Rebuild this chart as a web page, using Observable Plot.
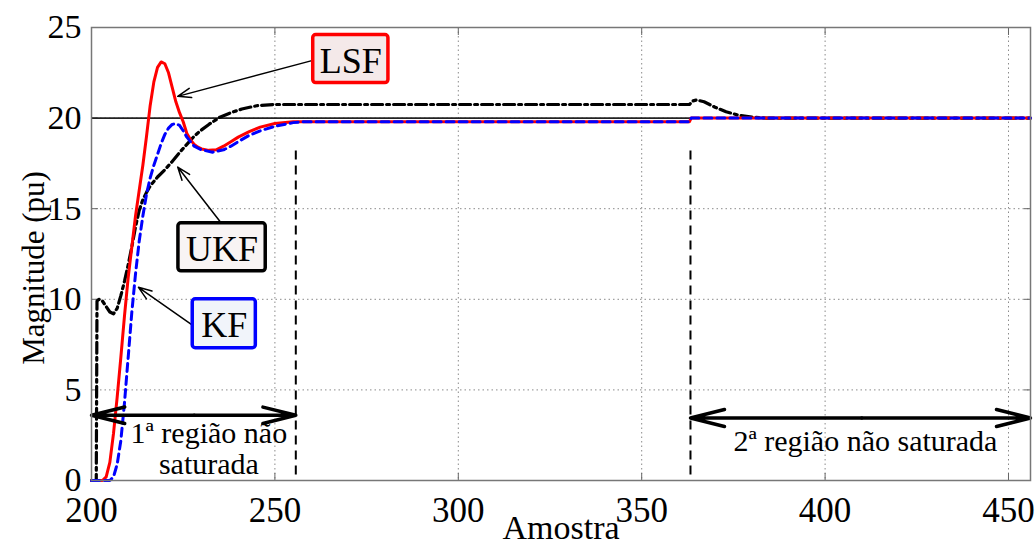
<!DOCTYPE html>
<html>
<head>
<meta charset="utf-8">
<script src="https://cdn.jsdelivr.net/npm/d3@7"></script>
<script src="https://cdn.jsdelivr.net/npm/@observablehq/plot@0.6"></script>
<style>
  body { margin: 0; background: white; }
</style>
</head>
<body>
<div id="chart"></div>
<script>
const xTicks = [200, 250, 300, 350, 400, 450];
const yTicks = [0, 5, 10, 15, 20, 25];

const lsfX = [200,203,204,205,206,207,208,209,210,211,212,213,214,215,216,217,218,219,220,221,222,223,224,225,226,227,228,229,230,232,234,236,238,240,243,246,250,255,363,363.5,456];
const lsfY = [0,0,0.2,1,2.6,4.6,6.8,9.1,11.2,12.9,14.6,16.0,17.4,19.0,20.7,22.0,22.8,23.1,23.0,22.5,21.7,20.9,20.3,19.8,19.15,18.8,18.55,18.4,18.3,18.22,18.25,18.45,18.7,18.95,19.25,19.5,19.7,19.8,19.8,20,20];

const kfX = [200,205,206,207,208,209,210,211,212,213,214,215,216,217,218,219,220,221,222,223,224,225,226,227,228,230,233,236,238,240,243,246,250,255,258,363,363.5,456];
const kfY = [0,0,0.2,0.9,2.2,4.3,6.8,9.3,11.4,13.2,14.6,15.8,16.7,17.4,18.0,18.6,19.1,19.45,19.65,19.7,19.6,19.3,18.95,18.7,18.45,18.25,18.12,18.25,18.45,18.7,19.05,19.3,19.55,19.75,19.8,19.8,20,20];

const ukfX = [200,201.3,201.5,202,203,204,205,206,207,208,209,210,211,212,213,214,215,216,218,220,222,224,226,228,230,232,235,238,241,245,250,363,364,365,367,370,373,376,380,384,456];
const ukfY = [0,0,9.9,10,9.9,9.6,9.3,9.2,9.5,10.2,11,11.9,12.9,14,14.9,15.5,15.9,16.25,16.75,17.15,17.6,18.1,18.55,19.0,19.35,19.65,20.05,20.3,20.5,20.68,20.75,20.75,20.95,21.0,20.9,20.6,20.35,20.18,20.05,20.0,20];

const referenceValue = [20];

// region boundaries (sample index) and annotations
const regionBounds = [255.7, 363.3];
const regionTop = 18.3;
const regionArrows = [
  {x1: 228, x2: 200, y: 3.6},
  {x1: 228, x2: 255.7, y: 3.6},
  {x1: 410, x2: 363.3, y: 3.45},
  {x1: 410, x2: 456, y: 3.45}
];
const regionTexts = [
  {x: 232, y: 2.6, t: "1ª região não"},
  {x: 232, y: 0.9, t: "saturada"},
  {x: 411, y: 2.15, t: "2ª região não saturada"}
];

const seriesNames = ["LSF", "UKF", "KF"];
const labelBoxes = [
  {name: "LSF", cx: 270.7, cy: 23.26, w: 20.5, h: 2.65, stroke: "#ff0000", fill: "#f4e9e9"},
  {name: "UKF", cx: 235.6, cy: 12.87, w: 23.8, h: 2.65, stroke: "#000000", fill: "#f8f4f4"},
  {name: "KF",  cx: 236.2, cy: 8.65,  w: 17.2, h: 2.7,  stroke: "#0000ff", fill: "#f1f4fa"}
];
const pointers = [
  {x1: 260.6, y1: 23.2, x2: 223.5, y2: 21.2},
  {x1: 235.2, y1: 14.25, x2: 223.5, y2: 17.3},
  {x1: 227.6, y1: 8.56, x2: 212.8, y2: 10.66}
];

const lsf = lsfX.map((x, i) => ({x, y: lsfY[i]}));
const kf = kfX.map((x, i) => ({x, y: kfY[i]}));
const ukf = ukfX.map((x, i) => ({x, y: ukfY[i]}));

const font = "Liberation Serif, Times New Roman, serif";

const chart = Plot.plot({
  width: 1035,
  height: 549,
  marginLeft: 91,
  marginRight: 5,
  marginTop: 27,
  marginBottom: 69,
  style: {fontFamily: font, fontSize: "34px", background: "white", color: "black"},
  x: {domain: [200, 456]},
  y: {domain: [0, 25]},
  marks: [
    Plot.gridX(xTicks.slice(1), {stroke: "#8a8a8a", strokeOpacity: 1, strokeDasharray: "1.5,3"}),
    Plot.gridY(yTicks.slice(1, -1), {stroke: "#8a8a8a", strokeOpacity: 1, strokeDasharray: "1.5,3"}),
    Plot.axisX(xTicks, {anchor: "bottom", tickSize: 0, tickPadding: 17, label: null, fontSize: 35}),
    Plot.axisX(xTicks, {anchor: "bottom", tickSize: 7, dy: -7, text: null, label: null, stroke: "#666"}),
    Plot.axisX(xTicks, {anchor: "top", tickSize: 7, dy: 7, text: null, label: null, stroke: "#666"}),
    Plot.axisY(yTicks, {anchor: "left", tickSize: 0, tickPadding: 10, label: null, fontSize: 34}),
    Plot.axisY(yTicks, {anchor: "left", tickSize: 7, dx: 7, text: null, label: null, stroke: "#666"}),
    Plot.axisY(yTicks, {anchor: "right", tickSize: 7, dx: -7, text: null, label: null, stroke: "#666"}),
    Plot.ruleY(referenceValue, {stroke: "#222", strokeWidth: 1.6}),
    Plot.line(ukf, {x: "x", y: "y", stroke: "black", strokeWidth: 3.2, strokeDasharray: "11,4,3,4"}),
    Plot.line(lsf, {x: "x", y: "y", stroke: "#ff0000", strokeWidth: 3}),
    Plot.line(kf, {x: "x", y: "y", stroke: "#0000ff", strokeWidth: 3, strokeDasharray: "8,5"}),
    Plot.ruleX(regionBounds, {y1: 0.3, y2: regionTop, stroke: "black", strokeWidth: 2, strokeDasharray: "9,6"}),
    Plot.arrow(regionArrows, {x1: "x1", x2: "x2", y1: "y", y2: "y", stroke: "black", strokeWidth: 3.5, headLength: 15, headAngle: 28}),
    Plot.text(regionTexts, {x: "x", y: "y", text: "t", fontSize: 30, fill: "black"}),
    Plot.arrow(pointers, {x1: "x1", y1: "y1", x2: "x2", y2: "y2", stroke: "black", strokeWidth: 1.5, headLength: 14, headAngle: 40}),
    Plot.rect(labelBoxes, {x1: d => d.cx - d.w / 2, x2: d => d.cx + d.w / 2, y1: d => d.cy - d.h / 2, y2: d => d.cy + d.h / 2, fill: "fill", stroke: "stroke", strokeWidth: 3.5, rx: 3}),
    Plot.text(labelBoxes, {x: "cx", y: "cy", text: "name", fontSize: 36, fill: "black", dy: 2}),
    Plot.frame({stroke: "#777", strokeWidth: 1.5}),
    Plot.text(["Amostra"], {frameAnchor: "bottom", lineAnchor: "middle", textAnchor: "middle", dy: 48, fontSize: 34, fill: "black"}),
    Plot.text(["Magnitude (pu)"], {frameAnchor: "left", lineAnchor: "middle", textAnchor: "middle", dx: -57, dy: 14, rotate: -90, fontSize: 31, fill: "black"})
  ]
});
document.getElementById("chart").append(chart);
</script>
</body>
</html>
